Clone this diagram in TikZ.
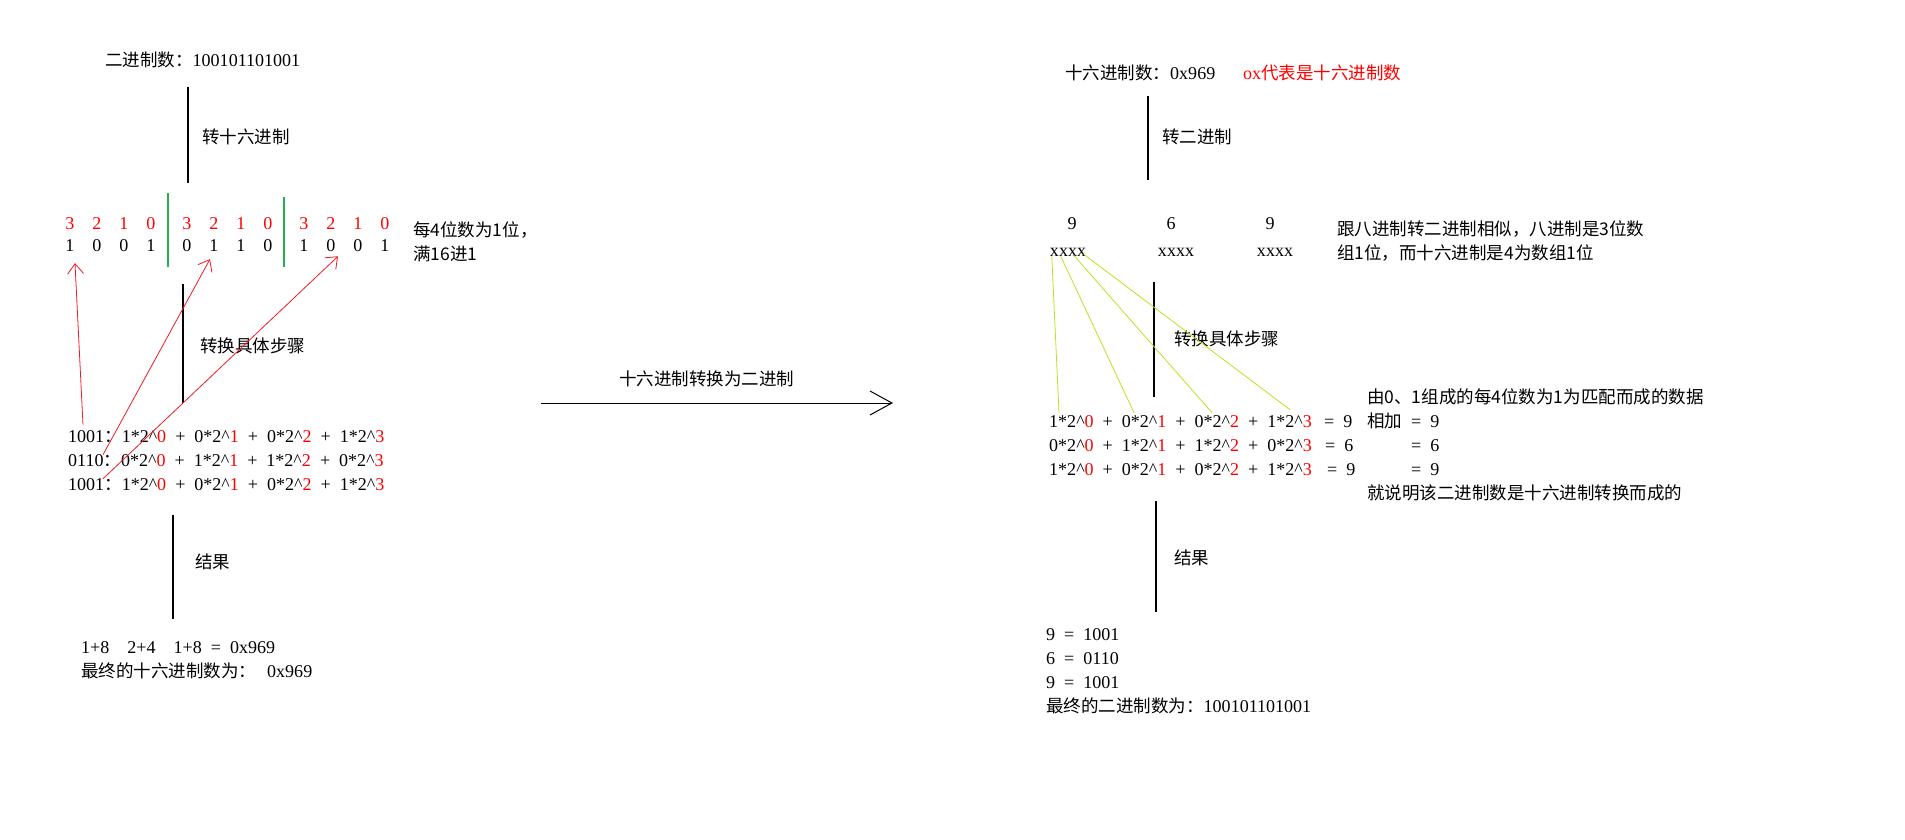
\documentclass[tikz,border=0pt]{standalone}
\usepackage{fontspec}
\setmainfont{Liberation Serif}[WordSpace={2,0,0},Scale=1.03]
\newfontfamily\cjk{Noto Sans CJK SC}
\usepackage{tikz}
\usetikzlibrary{arrows.meta}
\definecolor{paintred}{HTML}{ED1C24}
\definecolor{paintgreen}{HTML}{22B14C}
\definecolor{paintlime}{HTML}{B5E61D}
\newcommand{\zh}[1]{{\cjk #1}}
\newcommand{\pw}[1]{\textasciicircum\textcolor{red}{#1}}

\begin{document}
\begin{tikzpicture}[x=1pt,y=-1pt,every node/.style={inner sep=0pt,anchor=west,align=left,font=\fontsize{17.5}{24}\selectfont},
	digit/.style={anchor=center},
	stem/.style={line width=1.1pt},
	sep/.style={paintgreen,line width=1.1pt},
	pointer/.style={paintred,line width=0.8pt,-{Straight Barb[length=10pt,width=16pt]}},
	fan/.style={paintlime,line width=0.8pt},
	bigarrow/.style={line width=1pt,-{Straight Barb[length=22pt,width=24pt]}}]

	\useasboundingbox (0,0) rectangle (1905,840);

	% binary -> hex
	\node (bin) at (105,60) {\zh{二进制数：}100101101001};
	\draw[stem] (188,87) -- (188,183);
	\node (tohex) at (202,137) {\zh{转十六进制}};

	\node[digit,red] (h1) at (70,224) {3};
	\node[digit,red] (h2) at (97,224) {2};
	\node[digit,red] (h3) at (124,224) {1};
	\node[digit,red] (h4) at (151,224) {0};
	\node[digit,red] (h5) at (187,224) {3};
	\node[digit,red] (h6) at (214,224) {2};
	\node[digit,red] (h7) at (241,224) {1};
	\node[digit,red] (h8) at (268,224) {0};
	\node[digit,red] (h9) at (304,224) {3};
	\node[digit,red] (h10) at (331,224) {2};
	\node[digit,red] (h11) at (358,224) {1};
	\node[digit,red] (h12) at (385,224) {0};
	\node[digit] (b1) at (70,246) {1};
	\node[digit] (b2) at (97,246) {0};
	\node[digit] (b3) at (124,246) {0};
	\node[digit] (b4) at (151,246) {1};
	\node[digit] (b5) at (187,246) {0};
	\node[digit] (b6) at (214,246) {1};
	\node[digit] (b7) at (241,246) {1};
	\node[digit] (b8) at (268,246) {0};
	\node[digit] (b9) at (304,246) {1};
	\node[digit] (b10) at (331,246) {0};
	\node[digit] (b11) at (358,246) {0};
	\node[digit] (b12) at (385,246) {1};
	\draw[sep] (168,193) -- (168,267);
	\draw[sep] (284,197) -- (284,267);
	\node (rule) at (413,241.5) {\zh{每4位数为1位，}\\\zh{满16进1}};

	\draw[stem] (183,284) -- (183,403);
	\node (steps) at (200,346) {\zh{转换具体步骤}};
	\node (r1) at (68,437) {1001\zh{：}1*2\pw0 + 0*2\pw1 + 0*2\pw2 + 1*2\pw3};
	\node (r2) at (68,461) {0110\zh{：}0*2\pw0 + 1*2\pw1 + 1*2\pw2 + 0*2\pw3};
	\node (r3) at (68,485) {1001\zh{：}1*2\pw0 + 0*2\pw1 + 0*2\pw2 + 1*2\pw3};
	\draw[pointer] ([xshift=15pt,yshift=6pt]r1.north west) -- ([xshift=5pt,yshift=-11pt]b1.south);
	\draw[pointer] ([xshift=35pt]r2.north west) -- ([xshift=-4pt,yshift=-7pt]b6.south);
	\draw[pointer] ([xshift=35pt]r3.north west) -- ([xshift=7pt,yshift=-4pt]b10.south);

	\draw[stem] (173,515) -- (173,619);
	\node (res) at (195,562) {\zh{结果}};
	\node (sum) at (81,660) {1+8~~2+4~~1+8 = 0x969\\\zh{最终的十六进制数为：}\hspace{11pt}0x969};

	% middle
	\coordinate (ma) at (541,403);
	\coordinate (mb) at (893,403);
	\draw[bigarrow] (ma) -- (mb);
	\node (mid) at (619,379) {\zh{十六进制转换为二进制}};

	% hex -> binary
	\node (hex) at (1065,73) {\zh{十六进制数：}0x969};
	\node[red] (note) at (1243,73) {ox\zh{代表是十六进制数}};
	\draw[stem] (1148,96) -- (1148,180);
	\node (tobin) at (1162,137) {\zh{转二进制}};

	\node[digit] (n1) at (1072,224) {9};
	\node[digit] (n2) at (1171,224) {6};
	\node[digit] (n3) at (1270,224) {9};
	\node[digit] (x1) at (1068,252) {xxxx};
	\node[digit] (x2) at (1176,252) {xxxx};
	\node[digit] (x3) at (1275,252) {xxxx};
	\node (like) at (1337,241.5) {\zh{跟八进制转二进制相似，八进制是3位数}\\\zh{组1位，而十六进制是4为数组1位}};

	\draw[stem] (1154,282) -- (1154,397);
	\node (steps2) at (1174,339) {\zh{转换具体步骤}};
	\node (r4) at (1049,422) {1*2\pw0 + 0*2\pw1 + 0*2\pw2 + 1*2\pw3};
	\node (r5) at (1049,446) {0*2\pw0 + 1*2\pw1 + 1*2\pw2 + 0*2\pw3};
	\node (r6) at (1049,470) {1*2\pw0 + 0*2\pw1 + 0*2\pw2 + 1*2\pw3};
	\node (e4) at (1324,422) {= 9};
	\node (e5) at (1325,446) {= 6};
	\node (e6) at (1327,470) {= 9};
	\draw[fan] ([xshift=2pt]x1.south west) -- ([xshift=10pt,yshift=3pt]r4.north west);
	\draw[fan] ([xshift=11pt]x1.south west) -- ([xshift=85pt,yshift=3pt]r4.north west);
	\draw[fan] ([xshift=24pt,yshift=1pt]x1.south west) -- ([xshift=163pt,yshift=3pt]r4.north west);
	\draw[fan] ([xshift=34pt,yshift=2pt]x1.south west) -- ([xshift=241pt,yshift=6pt]r4.north west);
	\node (why) at (1367,445) {\zh{由0、1组成的每4位数为1为匹配而成的数据}\\\zh{相加} = 9\\\phantom{\zh{相加} }= 6\\\phantom{\zh{相加} }= 9\\\zh{就说明该二进制数是十六进制转换而成的}};

	\draw[stem] (1156,501) -- (1156,612);
	\node (res2) at (1174,558) {\zh{结果}};
	\node (out) at (1046,671) {9 = 1001\\6 = 0110\\9 = 1001\\\zh{最终的二进制数为：}100101101001};
\end{tikzpicture}
\end{document}
